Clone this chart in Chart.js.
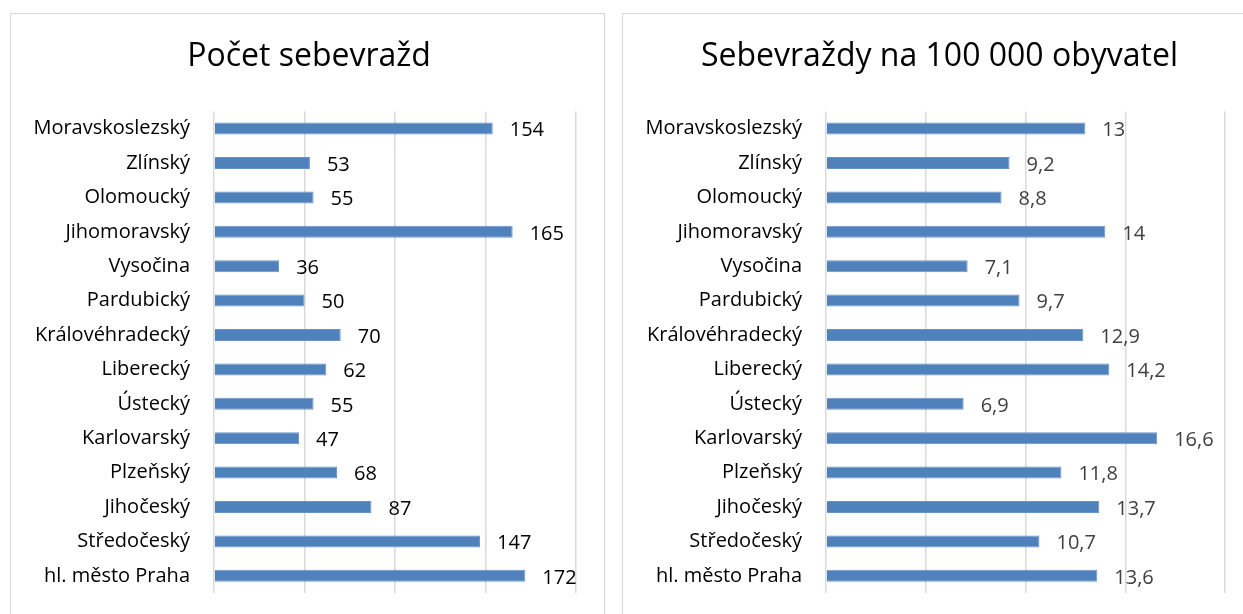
<!DOCTYPE html>
<html>
<head>
<meta charset="utf-8">
<script src="https://cdn.jsdelivr.net/npm/chart.js@4.4.1/dist/chart.umd.min.js"></script>
<style>
    body { margin: 0; background: #fff; width: 1243px; height: 614px; overflow: hidden; position: relative; }
    .panel { position: absolute; top: 13px; height: 620px; border: 1px solid #d9d9d9; background: #fff; }
    #leftPanel { left: 10px; width: 593px; }
    #rightPanel { left: 622px; width: 640px; }
    canvas { display: block; }
</style>
</head>
<body>
<div class="panel" id="leftPanel"><div style="width:593px;height:600px"><canvas id="countChart"></canvas></div></div>
<div class="panel" id="rightPanel"><div style="width:620px;height:600px"><canvas id="rateChart"></canvas></div></div>
<script>
const regions = [
    'Moravskoslezský', 'Zlínský', 'Olomoucký', 'Jihomoravský', 'Vysočina',
    'Pardubický', 'Královéhradecký', 'Liberecký', 'Ústecký', 'Karlovarský',
    'Plzeňský', 'Jihočeský', 'Středočeský', 'hl. město Praha'
];
const suicideCounts = [154, 53, 55, 165, 36, 50, 70, 62, 55, 47, 68, 87, 147, 172];
const suicideRates = [13, 9.2, 8.8, 14, 7.1, 9.7, 12.9, 14.2, 6.9, 16.6, 11.8, 13.7, 10.7, 13.6];

const FONT = "'Open Sans', 'Noto Sans', sans-serif";

// draws the value next to the end of each bar
const valueLabels = {
    id: 'valueLabels',
    afterLayout(chart) {
        // let the long region names use the left padding instead of being clipped
        chart.scales.y.left = 0;
    },
    afterDatasetsDraw(chart, args, opts) {
        const ctx = chart.ctx;
        const meta = chart.getDatasetMeta(0);
        const data = chart.data.datasets[0].data;
        ctx.save();
        ctx.font = '20px ' + FONT;
        ctx.fillStyle = opts.color;
        ctx.textAlign = 'left';
        ctx.textBaseline = 'middle';
        meta.data.forEach((bar, i) => {
            const text = String(data[i]).replace('.', ',');
            ctx.fillText(text, bar.x + 17, bar.y + 2);
        });
        ctx.restore();
    }
};

function makeChart(id, title, values, max, step, padRight, labelColor) {
    const ctx = document.getElementById(id).getContext('2d');
    return new Chart(ctx, {
        type: 'bar',
        data: {
            labels: regions,
            datasets: [{
                data: values,
                backgroundColor: '#4f81bd',
                borderColor: '#6a93c8',
                borderWidth: 1,
                categoryPercentage: 1,
                barPercentage: 0.35
            }]
        },
        plugins: [valueLabels],
        options: {
            indexAxis: 'y',
            responsive: true,
            maintainAspectRatio: false,
            animation: false,
            layout: { padding: { left: 31, right: padRight, top: 0, bottom: 21 } },
            plugins: {
                legend: { display: false },
                tooltip: { enabled: false },
                title: {
                    display: true,
                    text: title,
                    color: '#000',
                    font: { family: FONT, size: 32, weight: 'normal', lineHeight: 1.2 },
                    padding: { top: 24, bottom: 35 }
                },
                valueLabels: { color: labelColor }
            },
            scales: {
                x: {
                    min: 0,
                    max: max,
                    ticks: { stepSize: step, display: false },
                    grid: { color: '#d9d9d9', lineWidth: 1.5, drawTicks: false },
                    border: { display: false },
                    afterFit(scale) { scale.height = 0; }
                },
                y: {
                    grid: { display: false },
                    border: { display: false },
                    ticks: { color: '#000', padding: 16, font: { family: FONT, size: 20 } },
                    afterFit(scale) {
                        scale.width = 172;
                        scale.paddingTop = 0;
                        scale.paddingBottom = 0;
                    }
                }
            }
        }
    });
}

makeChart('countChart', 'Počet sebevražd', suicideCounts, 200, 50, 28, '#000');
makeChart('rateChart', 'Sebevraždy na 100 000 obyvatel', suicideRates, 20, 5, 18, '#404040');
</script>
</body>
</html>
